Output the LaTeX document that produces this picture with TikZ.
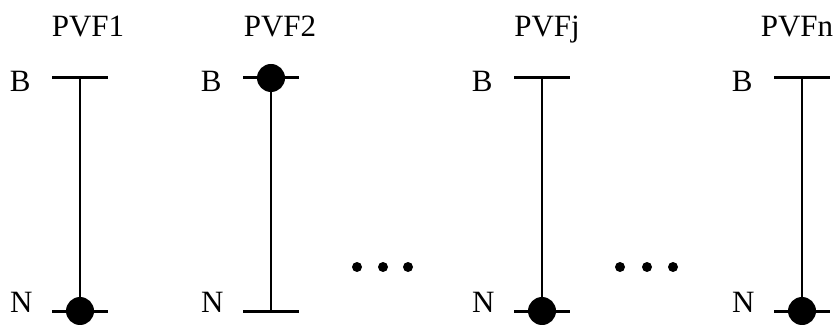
\documentclass[tikz,border=0pt]{standalone}
\usepackage{fontspec}
\setmainfont{Liberation Serif}
\begin{document}
\begin{tikzpicture}[x=0.5pt,y=-0.5pt,
  lbl/.style={font=\fontsize{15.5}{18}\selectfont, inner sep=0pt},
  bar/.style={line width=1.5pt},
  stem/.style={line width=1.2pt},
  state/.style={circle, fill=black, draw=none, minimum size=14pt, inner sep=0pt},
  gap/.style={circle, fill=black, draw=none, minimum size=5pt, inner sep=0pt}]
\useasboundingbox (0,0) rectangle (838,325);

% stem heights and bar half-width
\def\ytop{78}
\def\ybot{311}
\def\hw{28}

% one column: name, stem x, title x, title text
\foreach \id/\cx/\tx/\title in {a/80/88/PVF1, b/271/280/PVF2, j/542/547/PVFj, n/802/797/PVFn}{
  \coordinate (\id-tl) at (\cx-\hw,\ytop);
  \coordinate (\id-tr) at (\cx+\hw,\ytop);
  \coordinate (\id-bl) at (\cx-\hw,\ybot);
  \coordinate (\id-br) at (\cx+\hw,\ybot);
  \coordinate (\id-t) at (\cx,\ytop);
  \coordinate (\id-b) at (\cx,\ybot);
  \node[lbl, anchor=base] (\id-title) at (\tx,37) {\title};
  \node[lbl, anchor=base east] (\id-B) at (\cx-\hw-21,92) {B};
  \node[lbl, anchor=base east] (\id-N) at (\cx-\hw-19,312) {N};
  \draw[bar] (\id-tl) -- (\id-tr);
  \draw[bar] (\id-bl) -- (\id-br);
  \draw[stem] (\id-t) -- (\id-b);
}

% occupied states
\node[state] (a-dot) at (a-b) {};
\node[state] (b-dot) at (b-t) {};
\node[state] (j-dot) at (j-b) {};
\node[state] (n-dot) at (n-b) {};

% ellipses between columns
\foreach \i/\gx in {1/357, 2/383, 3/408, 4/620, 5/647, 6/673}{
  \node[gap] (g\i) at (\gx,267) {};
}
\end{tikzpicture}
\end{document}
